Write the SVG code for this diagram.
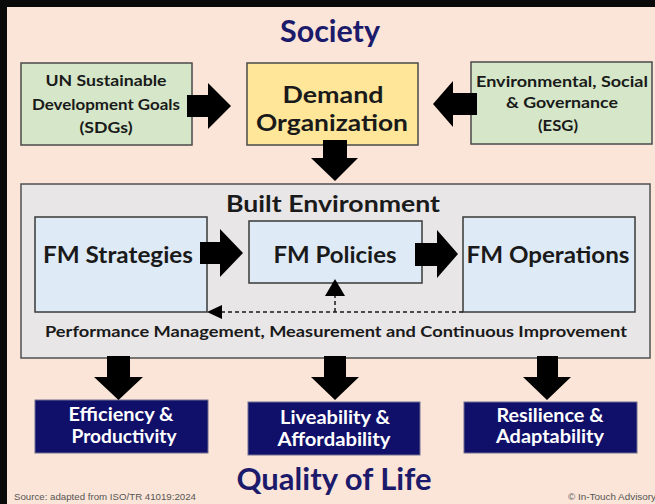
<svg xmlns="http://www.w3.org/2000/svg" width="655" height="504" viewBox="0 0 655 504">
  <style>
    .t { font-family: Lato, "Open Sans", "Liberation Sans", sans-serif; font-weight: 700; text-anchor: middle; fill: #1a1a1a; }
    .title { fill: #1c1a6b; font-size: 30px; }
    .green { fill: #d5e7c8; stroke: #4a4a4a; stroke-width: 1.5; }
    .blue { fill: #deebf7; stroke: #3a3a3a; stroke-width: 1.5; }
    .navy { fill: #10106b; stroke: #6f6f8f; stroke-width: 1; }
    .w { fill: #ffffff; font-size: 18px; }
    .arrow { fill: #000000; }
    .dash { stroke: #1a1a1a; stroke-width: 1.5; stroke-dasharray: 4 3; fill: none; }
    .small { font-family: "Liberation Sans", Arial, sans-serif; font-size: 9px; fill: #555555; }
  </style>
  <rect x="0" y="0" width="655" height="504" fill="#0a0a0a"/>
  <rect x="7" y="7" width="648" height="497" fill="#fbe5d8"/>

  <text class="t title" x="330" y="42" textLength="100" lengthAdjust="spacingAndGlyphs">Society</text>

  <g id="sdg">
    <rect class="green" x="21" y="63" width="171" height="82"/>
    <text class="t" x="106" y="86" font-size="16" textLength="121" lengthAdjust="spacingAndGlyphs">UN Sustainable</text>
    <text class="t" x="106" y="110" font-size="16" textLength="148" lengthAdjust="spacingAndGlyphs">Development Goals</text>
    <text class="t" x="106" y="133" font-size="16" textLength="53" lengthAdjust="spacingAndGlyphs">(SDGs)</text>
  </g>

  <g id="demand">
    <rect x="247" y="63" width="171" height="82" fill="#ffe699" stroke="#4a4a4a" stroke-width="1.5"/>
    <text class="t" x="333" y="103" font-size="22" textLength="101" lengthAdjust="spacingAndGlyphs">Demand</text>
    <text class="t" x="332" y="131" font-size="22" textLength="152" lengthAdjust="spacingAndGlyphs">Organization</text>
  </g>

  <g id="esg">
    <rect class="green" x="471" y="62" width="181" height="82"/>
    <text class="t" x="562" y="87" font-size="16" textLength="172" lengthAdjust="spacingAndGlyphs">Environmental, Social</text>
    <text class="t" x="562" y="108" font-size="16" textLength="112" lengthAdjust="spacingAndGlyphs">&amp; Governance</text>
    <text class="t" x="558" y="131" font-size="16" textLength="40" lengthAdjust="spacingAndGlyphs">(ESG)</text>
  </g>

  <g id="built-environment">
    <rect x="21" y="184" width="629" height="174" fill="#e8e6e6" stroke="#505050" stroke-width="1.5"/>
    <text class="t" x="333" y="212" font-size="23" textLength="214" lengthAdjust="spacingAndGlyphs">Built Environment</text>
    <text class="t" x="336" y="337" font-size="15" textLength="582" lengthAdjust="spacingAndGlyphs">Performance Management, Measurement and Continuous Improvement</text>
  </g>

  <g id="fm-strategies">
    <rect class="blue" x="35" y="217" width="172" height="95"/>
    <text class="t" x="118" y="263" font-size="22" textLength="150" lengthAdjust="spacingAndGlyphs">FM Strategies</text>
  </g>
  <g id="fm-policies">
    <rect class="blue" x="249" y="221" width="173" height="62"/>
    <text class="t" x="335" y="263" font-size="22" textLength="123" lengthAdjust="spacingAndGlyphs">FM Policies</text>
  </g>
  <g id="fm-operations">
    <rect class="blue" x="463" y="217" width="172" height="95"/>
    <text class="t" x="548" y="263" font-size="22" textLength="163" lengthAdjust="spacingAndGlyphs">FM Operations</text>
  </g>

  <g id="efficiency">
    <rect class="navy" x="35" y="400" width="173" height="53"/>
    <text class="t w" x="121" y="421" textLength="105" lengthAdjust="spacingAndGlyphs">Efficiency &amp;</text>
    <text class="t w" x="124" y="443" textLength="105" lengthAdjust="spacingAndGlyphs">Productivity</text>
  </g>
  <g id="liveability">
    <rect class="navy" x="248" y="402" width="172" height="53"/>
    <text class="t w" x="335" y="424" textLength="110" lengthAdjust="spacingAndGlyphs">Liveability &amp;</text>
    <text class="t w" x="334" y="446" textLength="113" lengthAdjust="spacingAndGlyphs">Affordability</text>
  </g>
  <g id="resilience">
    <rect class="navy" x="464" y="402" width="173" height="51"/>
    <text class="t w" x="550" y="422" textLength="107" lengthAdjust="spacingAndGlyphs">Resilience &amp;</text>
    <text class="t w" x="550" y="443" textLength="108" lengthAdjust="spacingAndGlyphs">Adaptability</text>
  </g>

  <g id="connectors">
    <polygon class="arrow" points="187,95 208,95 208,83 231,106 208,129 208,117 187,117"/>
    <polygon class="arrow" points="477,93 453,93 453,81 433,104 453,127 453,115 477,115"/>
    <polygon class="arrow" points="323,140 347,140 347,158 358,158 335,181 311,158 323,158"/>
    <polygon class="arrow" points="200,242 220,242 220,229 243,253 220,277 220,264 200,264"/>
    <polygon class="arrow" points="415,243 437,243 437,230 458,254 437,278 437,266 415,266"/>
    <line class="dash" x1="463" y1="312" x2="220" y2="312"/>
    <polygon class="arrow" points="207,312 222,305 222,319"/>
    <line class="dash" x1="335" y1="312" x2="335" y2="295"/>
    <polygon class="arrow" points="335,279 325,296 345,296"/>
    <polygon class="arrow" points="107,356 130,356 130,377 143,377 118.5,400 94,377 107,377"/>
    <polygon class="arrow" points="324,356 346,356 346,377 359,377 335,400 311,377 324,377"/>
    <polygon class="arrow" points="537,356 558,356 558,377 571,377 547,400 523,377 537,377"/>
  </g>

  <text class="t title" x="334" y="490" textLength="195" lengthAdjust="spacingAndGlyphs">Quality of Life</text>
  <text class="small" x="14" y="500" textLength="182" lengthAdjust="spacingAndGlyphs">Source: adapted from ISO/TR 41019:2024</text>
  <text class="small" x="568" y="500" textLength="88" lengthAdjust="spacingAndGlyphs">© In-Touch Advisory</text>
</svg>
